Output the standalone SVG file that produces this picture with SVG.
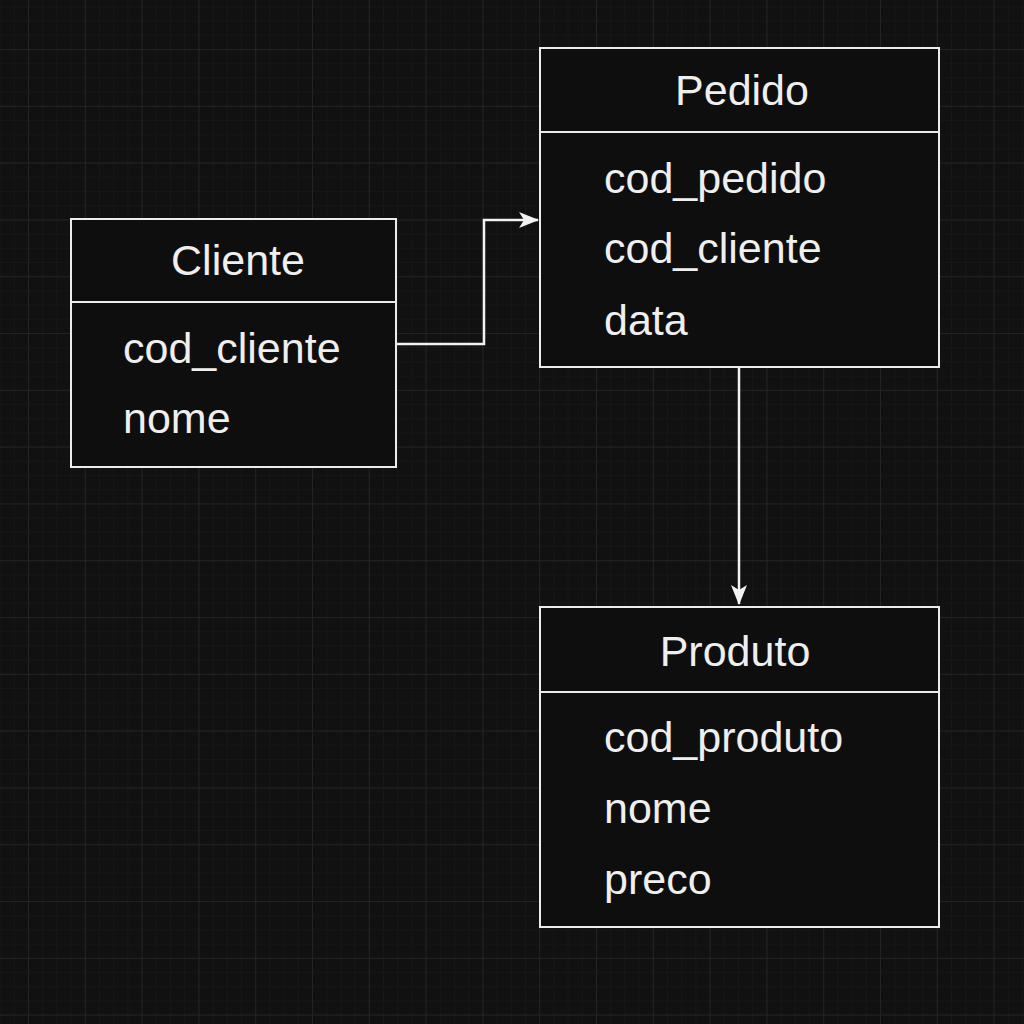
<svg xmlns="http://www.w3.org/2000/svg" width="1024" height="1024" viewBox="0 0 1024 1024">
  <defs>
    <pattern id="minor" x="28" y="49" width="14.2" height="14.2" patternUnits="userSpaceOnUse">
      <path d="M0 0H14.2M0 0V14.2" fill="none" stroke="#1b1b1b" stroke-width="1"/>
    </pattern>
    <pattern id="major" x="28" y="49" width="56.8" height="56.8" patternUnits="userSpaceOnUse">
      <path d="M0 0H56.8M0 0V56.8" fill="none" stroke="#262626" stroke-width="1.5"/>
    </pattern>
    <marker id="arrow" viewBox="0 0 20 16" refX="19" refY="8" markerWidth="20" markerHeight="16" markerUnits="userSpaceOnUse" orient="auto">
      <path d="M0 0L20 8L0 16L5 8Z" fill="#f2f2f2"/>
    </marker>
    <style>
      .box{fill:#0e0e0e;stroke:#ececec;stroke-width:2}
      .div{stroke:#ececec;stroke-width:2}
      .title{font-family:"Liberation Sans",Arial,sans-serif;font-size:43px;fill:#efefef;text-anchor:middle}
      .attr{font-family:"Liberation Sans",Arial,sans-serif;font-size:43px;fill:#efefef}
      .conn{fill:none;stroke:#f2f2f2;stroke-width:2.5}
    </style>
  </defs>
  <rect width="1024" height="1024" fill="#111111"/>
  <rect width="1024" height="1024" fill="url(#minor)"/>
  <rect width="1024" height="1024" fill="url(#major)"/>

  <g id="connectors">
    <path class="conn" d="M397 344H484V220H538" marker-end="url(#arrow)"/>
    <path class="conn" d="M739 368V604" marker-end="url(#arrow)"/>
  </g>

  <g id="cliente">
    <rect class="box" x="71" y="219" width="325" height="248"/>
    <line class="div" x1="71" y1="302" x2="396" y2="302"/>
    <text class="title" x="238" y="275">Cliente</text>
    <text class="attr" x="123" y="363">cod_cliente</text>
    <text class="attr" x="123" y="433">nome</text>
  </g>

  <g id="pedido">
    <rect class="box" x="540" y="48" width="399" height="319"/>
    <line class="div" x1="540" y1="132" x2="939" y2="132"/>
    <text class="title" x="742" y="105">Pedido</text>
    <text class="attr" x="604" y="193">cod_pedido</text>
    <text class="attr" x="604" y="263">cod_cliente</text>
    <text class="attr" x="604" y="335">data</text>
  </g>

  <g id="produto">
    <rect class="box" x="540" y="607" width="399" height="320"/>
    <line class="div" x1="540" y1="692" x2="939" y2="692"/>
    <text class="title" x="735" y="666">Produto</text>
    <text class="attr" x="604" y="752">cod_produto</text>
    <text class="attr" x="604" y="823">nome</text>
    <text class="attr" x="604" y="894">preco</text>
  </g>
</svg>
